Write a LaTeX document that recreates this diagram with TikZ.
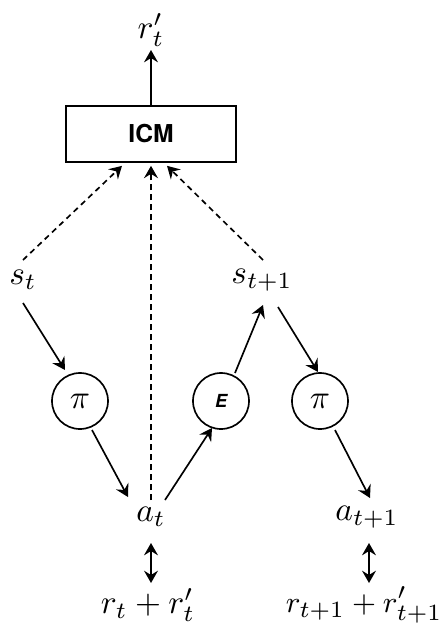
\documentclass[tikz,border=0pt]{standalone}
\usepackage{fontspec}
\newfontfamily\heros{TeX Gyre Heros}
\usetikzlibrary{arrows.meta,calc}
\begin{document}
\begin{tikzpicture}[x=0.3pt,y=-0.3pt,
  line width=0.5pt,
  arr/.style={-{Stealth[length=3.7pt,width=4.2pt,inset=1.3pt]}},
  darr/.style={{Stealth[length=3.7pt,width=4.2pt,inset=1.3pt]}-{Stealth[length=3.7pt,width=4.2pt,inset=1.3pt]}},
  dashline/.style={arr,dash pattern=on 1.7pt off 1.3pt},
  mlabel/.style={inner sep=0pt},
  policy/.style={circle,draw,minimum size=16.8pt,inner sep=0pt},
  icmbox/.style={draw,minimum width=51pt,minimum height=16.8pt,inner sep=0pt}]
\useasboundingbox (0,0) rectangle (440,627);
\node[mlabel] (rtp) at (151,30) {$r'_t$};
\node[icmbox] (icm) at (151,134) {\heros\fontsize{7.4}{8}\selectfont\bfseries ICM};
\node[mlabel] (st) at (23,280) {$s_t$};
\node[mlabel] (st1) at (262,280) {$s_{t+1}$};
\node[policy] (pi1) at (80,401) {$\pi$};
\node[policy] (E) at (221,401) {\heros\fontsize{5.4}{6}\selectfont\bfseries\itshape E};
\node[policy] (pi2) at (320,401) {$\pi$};
\node[mlabel] (at) at (151,517) {$a_t$};
\node[mlabel] (at1) at (367,517) {$a_{t+1}$};
\node[mlabel] (rt) at (148,605) {$r_t + r'_t$};
\node[mlabel,font=\fontsize{9.5}{11}\selectfont] (rt1) at (364,605) {$r_{t+1} + r'_{t+1}$};
% ICM output
\draw[arr] (icm.north) -- ($(rtp)+(0,20)$);
% dashed inputs
\draw[dashline] ($(st)+(0,-20)$) -- ($(icm.south)+(-29,3)$);
\draw[dashline] ($(at)+(0,-17)$) -- ($(icm.south)+(0,3)$);
\draw[dashline] ($(st1)+(1,-20)$) -- ($(icm.south)+(16,3)$);
% solid flow
\draw[arr] ($(st)+(0,23)$) -- ($(pi1)+(-15,-31)$);
\draw[arr] ($(pi1)+(12,29)$) -- ($(at)+(-23,-20)$);
\draw[arr] ($(at)+(14,-17)$) -- ($(E)+(-9,27)$);
\draw[arr] ($(E)+(14,-28)$) -- ($(st1)+(1,25)$);
\draw[arr] ($(st1)+(16,27)$) -- ($(pi2)+(-2,-29)$);
\draw[arr] ($(pi2)+(15,29)$) -- ($(at1)+(3,-19)$);
% rewards
\draw[darr] ($(at)+(0,26)$) -- ($(rt)+(3,-22)$);
\draw[darr] ($(at1)+(2,26)$) -- ($(rt1)+(5,-22)$);
\end{tikzpicture}
\end{document}
